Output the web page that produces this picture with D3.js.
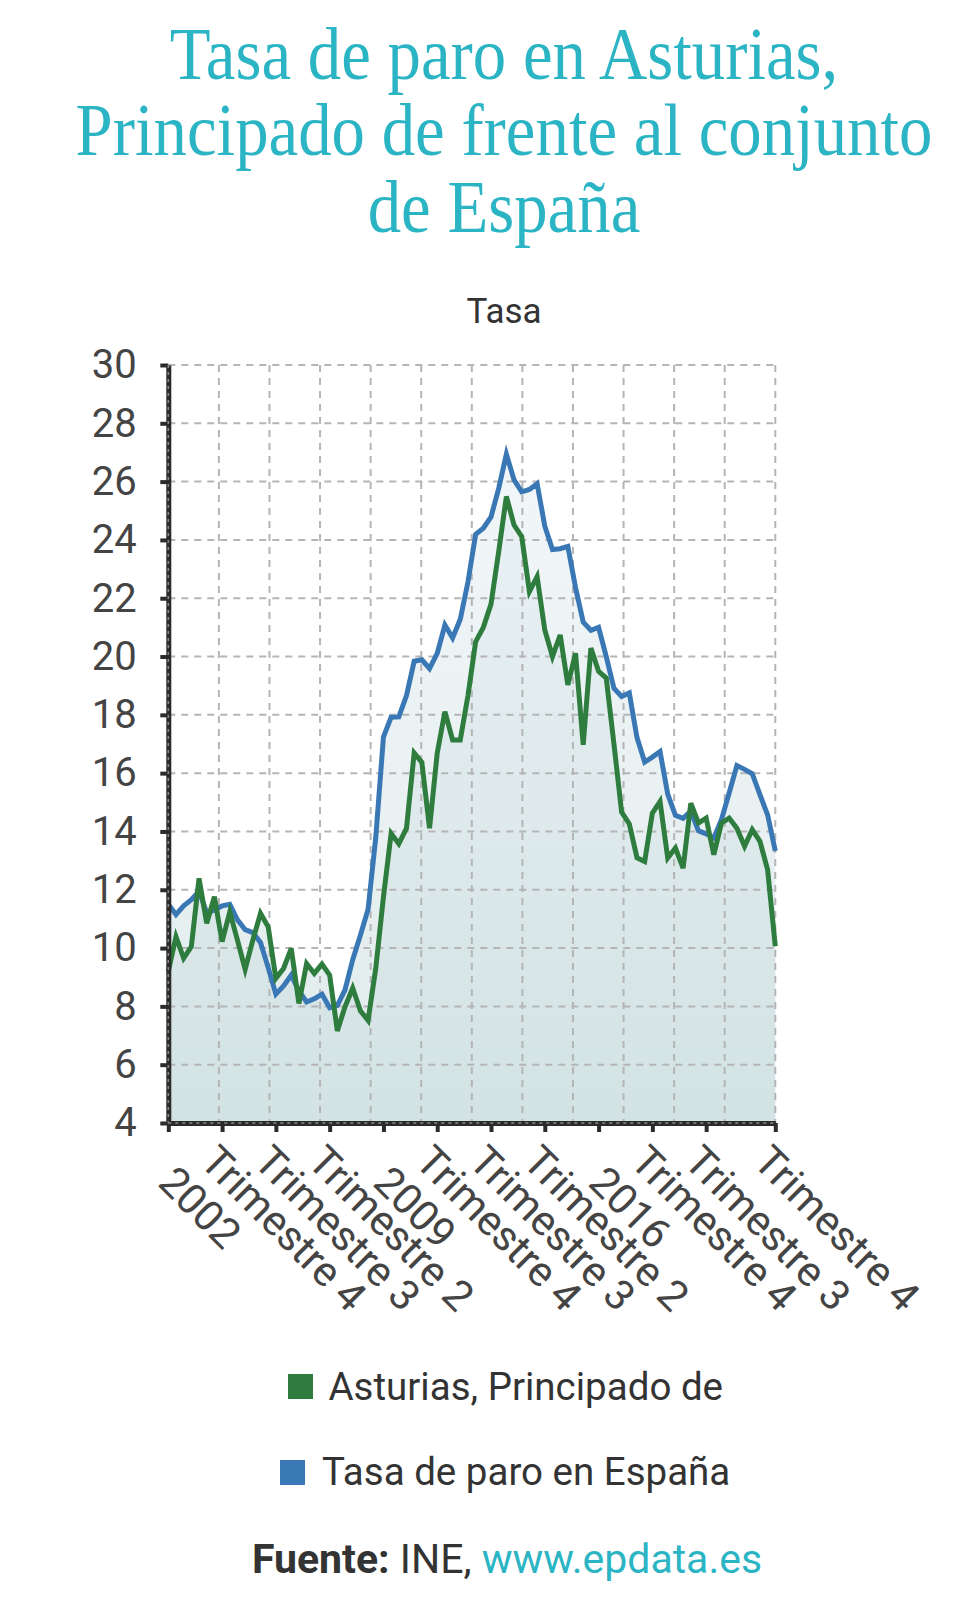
<!DOCTYPE html>
<html><head><meta charset="utf-8">
<script src="https://cdn.jsdelivr.net/npm/d3@7"></script>
<style>
html,body{margin:0;padding:0;background:#fff;}
svg{display:block;}
text{font-family:Roboto,"Noto Sans",sans-serif;}
</style></head><body>
<svg id="chart" width="973" height="1600"></svg>
<script>
// ---- DATA ----
const years = d3.range(2002, 2022);
const quarters = ["T1","T2","T3","T4"];
const periods = [];
years.forEach(yr => quarters.forEach(q => periods.push(yr + " " + q)));

const asturias = [
  9.20,10.39,9.65,10.05, 12.39,10.85,11.76,10.22, 11.24,10.27,9.27,10.27,
  11.19,10.73,8.96,9.30, 9.99,8.10,9.47,9.13, 9.45,9.07,7.16,7.99,
  8.63,7.85,7.52,9.30, 11.75,13.93,13.58,14.11, 16.69,16.37,14.11,16.69,
  18.11,17.14,17.14,18.66, 20.51,21.00,21.80,23.60, 25.49,24.51,24.11,22.23,
  22.74,20.91,20.00,20.74, 19.03,20.11,16.97,20.29, 19.49,19.26,17.00,14.66,
  14.26,13.10,12.97,14.63, 15.03,13.09,13.43,12.74, 14.97,14.29,14.46,13.20,
  14.29,14.46,14.11,13.49, 14.06,13.66,12.69,10.06
];
const espana = [
  11.50,11.15,11.45,11.66, 11.95,11.22,11.30,11.45, 11.50,10.97,10.63,10.53,
  10.19,9.33,8.42,8.70, 9.07,8.53,8.15,8.26, 8.42,7.95,8.03,8.57,
  9.60,10.44,11.33,13.79, 17.24,17.92,17.93,18.66, 19.84,19.89,19.59,20.11,
  21.08,20.64,21.28,22.56, 24.19,24.40,24.79,25.77, 26.94,26.06,25.65,25.73,
  25.93,24.47,23.67,23.70, 23.78,22.37,21.18,20.90, 21.00,20.00,18.91,18.63,
  18.75,17.22,16.38,16.55, 16.74,15.28,14.55,14.45, 14.70,14.02,13.92,13.78,
  14.41,15.33,16.26,16.13, 15.98,15.26,14.57,13.33
];
const tickPeriods = ["2002 T1","2003 T4","2005 T3","2007 T2","2009 T1","2010 T4","2012 T3","2014 T2","2016 T1","2017 T4","2019 T3","2021 T4"];
const tickLabels = ["2002","Trimestre 4","Trimestre 3","Trimestre 2","2009","Trimestre 4","Trimestre 3","Trimestre 2","2016","Trimestre 4","Trimestre 3","Trimestre 4"];
const yTicks = [4,6,8,10,12,14,16,18,20,22,24,26,28,30];
const seriesNames = ["Asturias, Principado de","Tasa de paro en España"];
const titleLines = ["Tasa de paro en Asturias,","Principado de frente al conjunto","de España"];

// ---- STYLE ----
const GREEN = "#2e7d3e", BLUE = "#3a78b5", TEAL = "#2bb4c4", TXT = "#444";
const X0 = 168.3, X1 = 775.3, YT = 365, YB = 1123;

const svg = d3.select("#chart");
const x = d3.scalePoint().domain(periods).range([X0, X1]);
const y = d3.scaleLinear().domain([4, 30]).range([YB, YT]);

// gradient
const defs = svg.append("defs");
const grad = defs.append("linearGradient").attr("id","fillGrad")
  .attr("gradientUnits","userSpaceOnUse").attr("x1",0).attr("x2",0).attr("y1",YT).attr("y2",YB);
grad.append("stop").attr("offset","0%").attr("stop-color","rgb(232,240,247)");
grad.append("stop").attr("offset","100%").attr("stop-color","rgb(196,217,217)");

// title
const title = svg.append("g");
const tl = title.selectAll("text").data(titleLines).join("text")
  .attr("text-anchor","middle")
  .style("font-family","'Liberation Serif','DejaVu Serif',serif")
  .attr("fill", TEAL)
  .attr("font-size", 60)
  .text(d => d);
const w2 = tl.nodes()[1].getComputedTextLength();
const fs = 60 * 857 / w2;
const baselines = [78.5, 155, 231.5];
tl.attr("font-size", fs)
  .attr("transform", (d,i) => `translate(504,${baselines[i]}) scale(1,1.12)`);

// subtitle
svg.append("text").attr("x",504).attr("y",323).attr("text-anchor","middle")
  .attr("font-size",35).attr("fill","#333").text("Tasa");

// areas
const areaGen = data => d3.area().x((d,i)=>x(periods[i])).y0(YB).y1(d=>y(d))(data);
svg.append("path").attr("d", areaGen(espana)).attr("fill","url(#fillGrad)").attr("fill-opacity",0.5);
svg.append("path").attr("d", areaGen(asturias)).attr("fill","url(#fillGrad)").attr("fill-opacity",0.5);

// grid
const grid = svg.append("g").attr("stroke","#b5b5b5").attr("stroke-width",2).attr("stroke-dasharray","7,6");
grid.selectAll("line.h").data(yTicks.slice(1)).join("line")
  .attr("x1",X0).attr("x2",X1).attr("y1",d=>y(d)).attr("y2",d=>y(d));
grid.selectAll("line.v").data(d3.range(1,13)).join("line")
  .attr("x1",d=>X0+d*(X1-X0)/12).attr("x2",d=>X0+d*(X1-X0)/12).attr("y1",YT).attr("y2",YB);

// lines
const lineGen = d3.line().x((d,i)=>x(periods[i])).y(d=>y(d));
svg.append("path").attr("d", lineGen(espana)).attr("fill","none").attr("stroke",BLUE).attr("stroke-width",5).attr("stroke-linejoin","miter");
svg.append("path").attr("d", lineGen(asturias)).attr("fill","none").attr("stroke",GREEN).attr("stroke-width",5).attr("stroke-linejoin","miter");

// y axis
const yAxis = svg.append("g").attr("transform",`translate(${X0},0)`)
  .call(d3.axisLeft(y).tickValues(yTicks).tickSize(8).tickSizeOuter(0).tickPadding(23.6).tickFormat(d3.format("d")));
yAxis.select(".domain").attr("stroke","#2b2b2b").attr("stroke-width",5);
yAxis.selectAll(".tick line").attr("stroke","#2b2b2b").attr("stroke-width",4);
yAxis.selectAll(".tick text").attr("font-size",40).attr("fill",TXT).style("font-family","Roboto");
svg.append("line").attr("x1",X0).attr("x2",X0).attr("y1",YT).attr("y2",YB)
  .attr("stroke","#8a8a8a").attr("stroke-width",1.5).attr("stroke-dasharray","3,4");

// x axis
const xAxis = svg.append("g").attr("transform",`translate(0,${YB})`)
  .call(d3.axisBottom(x).tickValues(tickPeriods).tickSize(9).tickSizeOuter(0).tickFormat((d,i)=>tickLabels[i]));
xAxis.select(".domain").attr("stroke","#2b2b2b").attr("stroke-width",5);
xAxis.selectAll(".tick line").attr("stroke","#2b2b2b").attr("stroke-width",4);
xAxis.selectAll(".tick text")
  .attr("font-size",42).attr("fill",TXT).style("font-family","Roboto")
  .attr("text-anchor","start").attr("x",0).attr("y",0).attr("dy","0.72em")
  .attr("transform",(d,i)=> tickLabels[i].startsWith("Trim") ? "translate(-3,19) rotate(45)" : "translate(9,40) rotate(45)");
svg.append("line").attr("x1",X0).attr("x2",X1).attr("y1",YB).attr("y2",YB)
  .attr("stroke","#8a8a8a").attr("stroke-width",1.5).attr("stroke-dasharray","3,4");

// legend
const legend = [
  {name: seriesNames[0], color: GREEN, sx: 288, sy: 1374, tx: 328.5, ty: 1399.5},
  {name: seriesNames[1], color: BLUE, sx: 280, sy: 1460, tx: 322, ty: 1485}
];
const lg = svg.append("g");
lg.selectAll("rect").data(legend).join("rect")
  .attr("x",d=>d.sx).attr("y",d=>d.sy).attr("width",25).attr("height",25).attr("fill",d=>d.color);
lg.selectAll("text").data(legend).join("text")
  .attr("x",d=>d.tx).attr("y",d=>d.ty).attr("font-size",38.5).attr("fill","#333").text(d=>d.name);

// footer
const ft = svg.append("text").attr("x",507).attr("y",1573).attr("text-anchor","middle").attr("font-size",41);
ft.append("tspan").attr("font-weight","bold").attr("fill","#333").text("Fuente:");
ft.append("tspan").attr("fill","#333").text(" INE, ");
ft.append("tspan").attr("fill",TEAL).text("www.epdata.es");
</script>
</body></html>
